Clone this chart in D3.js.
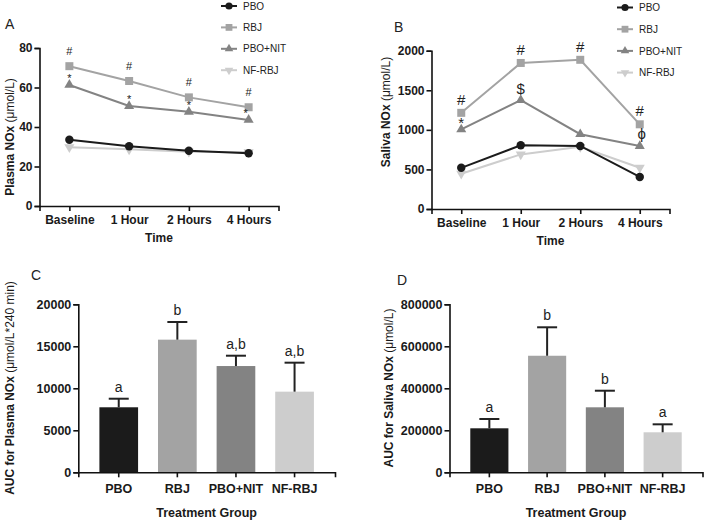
<!DOCTYPE html>
<html>
<head>
<meta charset="utf-8">
<script src="https://cdn.jsdelivr.net/npm/d3@7"></script>
<style>
  body { margin: 0; background: #fff; }
  text { font-family: "Liberation Sans", Arial, sans-serif; }
</style>
</head>
<body>
<script>
// ---------------- data ----------------
let times = ['Baseline', '1 Hour', '2 Hours', '4 Hours'];
let groups = ['PBO', 'RBJ', 'PBO+NIT', 'NF-RBJ'];

// plasma NOx (umol/L)
let plasmaPBO = [33.5, 30.3, 28.0, 26.7];
let plasmaRBJ = [70.8, 63.3, 55.0, 50.0];
let plasmaNIT = [61.3, 50.6, 47.7, 43.6];
let plasmaNF = [29.8, 28.7, 27.5, 27.3];
let plasmaTicks = [0, 20, 40, 60, 80];

// saliva NOx (umol/L)
let salivaPBO = [520, 805, 797, 405];
let salivaRBJ = [1215, 1845, 1885, 1070];
let salivaNIT = [1005, 1375, 945, 795];
let salivaNF = [445, 690, 785, 522];
let salivaTicks = [0, 500, 1000, 1500, 2000];

// significance marks: [group, time index, symbol]
let plasmaMarks = [['RBJ', 0, '#'], ['RBJ', 1, '#'], ['RBJ', 2, '#'], ['RBJ', 3, '#'],
                   ['PBO+NIT', 0, '*'], ['PBO+NIT', 1, '*'], ['PBO+NIT', 2, '*'], ['PBO+NIT', 3, '*']];
let salivaMarks = [['RBJ', 0, '#'], ['RBJ', 1, '#'], ['RBJ', 2, '#'], ['RBJ', 3, '#'],
                   ['PBO+NIT', 0, '*'], ['PBO+NIT', 1, '$'], ['PBO+NIT', 3, '\u03D5']];

// AUC bars
let aucPlasma = [7740, 15790, 12650, 9600];
let aucPlasmaErr = [1020, 2100, 1230, 3450];
let aucPlasmaLetters = ['a', 'b', 'a,b', 'a,b'];
let aucPlasmaTicks = [0, 5000, 10000, 15000, 20000];

let aucSaliva = [209500, 555000, 309500, 190500];
let aucSalivaErr = [44300, 135500, 79000, 38000];
let aucSalivaLetters = ['a', 'b', 'b', 'a'];
let aucSalivaTicks = [0, 200000, 400000, 600000, 800000];

// ---------------- styles ----------------
let colors = { 'PBO': '#1b1b1b', 'RBJ': '#a3a3a3', 'PBO+NIT': '#838383', 'NF-RBJ': '#cdcdcd' };
let symbols = {
    'PBO': d3.symbol().type(d3.symbolCircle).size(56)(),
    'RBJ': d3.symbol().type(d3.symbolSquare).size(64)(),
    'PBO+NIT': d3.symbol().type(d3.symbolTriangle).size(44)(),
    'NF-RBJ': d3.symbol().type(d3.symbolTriangle).size(44)()
};
let rot = { 'PBO': 0, 'RBJ': 0, 'PBO+NIT': 0, 'NF-RBJ': 180 };

let svg = d3.select('body')
    .append('svg')
        .attr('width', 708)
        .attr('height', 522);

function styleAxis(g) {
    g.selectAll('path').attr('stroke', '#111').attr('stroke-width', 1.6);
    g.selectAll('line').attr('stroke', '#111').attr('stroke-width', 1.6);
    g.selectAll('text')
        .attr('font-size', 12)
        .attr('font-weight', 'bold')
        .attr('fill', '#1a1a1a')
        .attr('font-family', '"Liberation Sans", Arial, sans-serif');
}

function yTitle(x, y, bold, normal) {
    let t = svg.append('text')
        .attr('transform', 'translate(' + x + ',' + y + ') rotate(-90)')
        .attr('text-anchor', 'middle')
        .attr('font-size', 12)
        .attr('fill', '#1a1a1a');
    t.append('tspan').attr('font-weight', 'bold').text(bold);
    t.append('tspan').text(normal);
}

function panelLabel(x, y, s) {
    svg.append('text')
        .attr('x', x).attr('y', y)
        .attr('font-size', 14)
        .attr('fill', '#222')
        .text(s);
}

// ============================================ LINE PANELS ===========================================================
function linePanel(opt) {
    let x = d3.scalePoint().domain(times).range([opt.x0, opt.x1]).padding(0.5);
    let y = d3.scaleLinear().domain([0, opt.ticks[opt.ticks.length - 1]]).range([opt.y0, opt.y1]);

    let gx = svg.append('g')
        .attr('transform', 'translate(0,' + opt.y0 + ')')
        .call(d3.axisBottom(x).tickSizeOuter(0).tickSize(5).tickPadding(4));
    styleAxis(gx);
    let gy = svg.append('g')
        .attr('transform', 'translate(' + opt.x0 + ',0)')
        .call(d3.axisLeft(y).tickValues(opt.ticks).tickFormat(d3.format('d')).tickSizeOuter(0).tickSize(5).tickPadding(2));
    styleAxis(gy);

    let line = d3.line()
        .x(function(d, i) { return x(times[i]); })
        .y(function(d) { return y(d); });

    // draw lighter first, black last
    let order = ['NF-RBJ', 'RBJ', 'PBO+NIT', 'PBO'];
    order.forEach(function(g) {
        let vals = opt.series[g];
        svg.append('path')
            .attr('fill', 'none')
            .attr('stroke', colors[g])
            .attr('stroke-width', 2)
            .attr('d', line(vals));
        svg.selectAll(null)
            .data(vals).enter()
            .append('path')
                .attr('d', symbols[g])
                .attr('fill', colors[g])
                .attr('transform', function(d, i) {
                    return 'translate(' + x(times[i]) + ',' + y(d) + ') rotate(' + rot[g] + ')';
                });
    });

    // significance marks
    svg.selectAll(null)
        .data(opt.marks).enter()
        .append('text')
            .attr('x', function(d) { return x(times[d[1]]) + (opt.shift[d[2] + d[1]] || 0); })
            .attr('y', function(d) { return y(opt.series[d[0]][d[1]]) - opt.off[d[2]]; })
            .attr('text-anchor', 'middle')
            .attr('font-size', function(d) { return opt.markSize[d[2]]; })
            .attr('fill', '#222')
            .text(function(d) { return d[2]; });

    // legend
    groups.forEach(function(g, i) {
        let ly = opt.legY + i * opt.legStep;
        svg.append('line')
            .attr('x1', opt.legX).attr('x2', opt.legX + 16)
            .attr('y1', ly).attr('y2', ly)
            .attr('stroke', colors[g]).attr('stroke-width', 2);
        svg.append('path')
            .attr('d', symbols[g])
            .attr('fill', colors[g])
            .attr('transform', 'translate(' + (opt.legX + 8) + ',' + ly + ') rotate(' + rot[g] + ') scale(0.85)');
        svg.append('text')
            .attr('x', opt.legX + 22).attr('y', ly + 3.6)
            .attr('font-size', 10)
            .attr('fill', '#222')
            .text(g);
    });

    svg.append('text')
        .attr('x', (opt.x0 + opt.x1) / 2).attr('y', opt.y0 + 36)
        .attr('text-anchor', 'middle')
        .attr('font-size', 12).attr('font-weight', 'bold').attr('fill', '#1a1a1a')
        .text('Time');
}

linePanel({
    x0: 39.5, x1: 278.5, y0: 206, y1: 48,
    ticks: plasmaTicks,
    series: { 'PBO': plasmaPBO, 'RBJ': plasmaRBJ, 'PBO+NIT': plasmaNIT, 'NF-RBJ': plasmaNF },
    marks: plasmaMarks,
    off: { '#': 11, '*': 3 },
    shift: { '*3': -3 },
    markSize: { '#': 11, '*': 11 },
    legX: 221, legY: 6, legStep: 21.4
});

linePanel({
    x0: 431.5, x1: 669.5, y0: 209, y1: 50.7,
    ticks: salivaTicks,
    series: { 'PBO': salivaPBO, 'RBJ': salivaRBJ, 'PBO+NIT': salivaNIT, 'NF-RBJ': salivaNF },
    marks: salivaMarks,
    off: { '#': 8, '*': 1, '$': 6, '\u03D5': 7 },
    shift: { '\u03D53': 2 },
    markSize: { '#': 15, '*': 15, '$': 15, '\u03D5': 15 },
    legX: 617, legY: 7.5, legStep: 21.7
});

yTitle(14, 137, 'Plasma NOx ', '(\u03BCmol/L)');
yTitle(390, 112, 'Saliva NOx ', '(\u03BCmol/L)');
panelLabel(5, 28.5, 'A');
panelLabel(394, 31.5, 'B');

// ============================================ BAR PANELS ============================================================
function barPanel(opt) {
    let x = d3.scaleBand().domain(groups).range([opt.x0, opt.x1]).paddingInner(0.34).paddingOuter(0.36);
    let y = d3.scaleLinear().domain([0, opt.ticks[opt.ticks.length - 1]]).range([472.3, 304.3]);

    svg.selectAll(null)
        .data(opt.values).enter()
        .append('rect')
            .attr('x', function(d, i) { return x(groups[i]); })
            .attr('width', x.bandwidth())
            .attr('y', function(d) { return y(d); })
            .attr('height', function(d) { return y(0) - y(d); })
            .attr('fill', function(d, i) { return colors[groups[i]]; });

    let cx = function(i) { return x(groups[i]) + x.bandwidth() / 2; };

    svg.selectAll(null)
        .data(opt.values).enter()
        .append('line')
            .attr('x1', function(d, i) { return cx(i); })
            .attr('x2', function(d, i) { return cx(i); })
            .attr('y1', function(d) { return y(d); })
            .attr('y2', function(d, i) { return y(d + opt.err[i]); })
            .attr('stroke', '#222').attr('stroke-width', 2);
    svg.selectAll(null)
        .data(opt.values).enter()
        .append('line')
            .attr('x1', function(d, i) { return cx(i) - 10; })
            .attr('x2', function(d, i) { return cx(i) + 10; })
            .attr('y1', function(d, i) { return y(d + opt.err[i]); })
            .attr('y2', function(d, i) { return y(d + opt.err[i]); })
            .attr('stroke', '#222').attr('stroke-width', 2);

    svg.selectAll(null)
        .data(opt.letters).enter()
        .append('text')
            .attr('x', function(d, i) { return cx(i); })
            .attr('y', function(d, i) { return y(opt.values[i] + opt.err[i]) - 7; })
            .attr('text-anchor', 'middle')
            .attr('font-size', 14)
            .attr('fill', '#222')
            .text(function(d) { return d; });

    let gx = svg.append('g')
        .attr('transform', 'translate(0,472.3)')
        .call(d3.axisBottom(x).tickSizeOuter(0).tickSize(5).tickPadding(7));
    styleAxis(gx);
    gx.selectAll('text').attr('font-size', 12.5);
    let gy = svg.append('g')
        .attr('transform', 'translate(' + opt.x0 + ',0)')
        .call(d3.axisLeft(y).tickValues(opt.ticks).tickFormat(d3.format('d')).tickSizeOuter(0).tickSize(5).tickPadding(2));
    styleAxis(gy);
    gy.selectAll('text').attr('font-size', 12.5);

    svg.append('text')
        .attr('x', (opt.x0 + opt.x1) / 2).attr('y', 516.5)
        .attr('text-anchor', 'middle')
        .attr('font-size', 12.5).attr('font-weight', 'bold').attr('fill', '#1a1a1a')
        .text('Treatment Group');
}

barPanel({
    x0: 78.3, x1: 335, ticks: aucPlasmaTicks,
    values: aucPlasma, err: aucPlasmaErr, letters: aucPlasmaLetters
});
barPanel({
    x0: 449.5, x1: 702.5, ticks: aucSalivaTicks,
    values: aucSaliva, err: aucSalivaErr, letters: aucSalivaLetters
});

yTitle(14, 388, 'AUC for Plasma NOx ', '(\u03BCmol/L*240 min)');
yTitle(393, 388, 'AUC for Saliva NOx ', '(\u03BCmol/L)');
panelLabel(31, 280, 'C');
panelLabel(397, 285, 'D');
</script>
</body>
</html>
